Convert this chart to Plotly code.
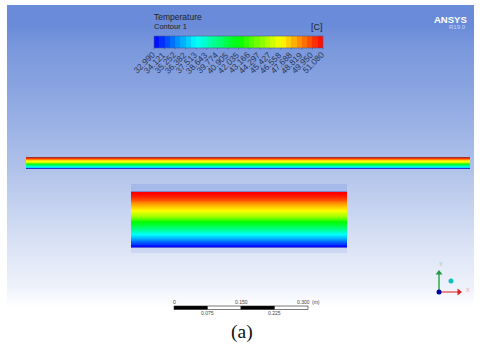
import plotly.graph_objects as go

# ---- data ----
legend_title = "Temperature"
legend_sub = "Contour 1"
legend_unit = "[C]"
tick_labels = ["32.990","34.121","35.252","36.382","37.513","38.643","39.774","40.905","42.035",
               "43.166","44.297","45.427","46.558","47.688","48.819","49.950","51.080"]
temps = [float(t) for t in tick_labels]
T_MIN, T_MAX = temps[0], temps[-1]

# temperature from hot wall to cold wall across the channel section
section_depth = [0.00, 0.06, 0.14, 0.24, 0.33, 0.42, 0.55, 0.62, 0.70, 0.76, 0.84, 0.92, 0.97, 1.00]
section_temp  = [51.08, 50.6, 49.6, 47.9, 46.5, 44.9, 42.0, 40.6, 39.2, 37.6, 36.2, 34.6, 33.4, 32.99]

rainbow = [[0, "#0000ff"], [0.25, "#00ffff"], [0.5, "#00ff00"], [0.75, "#ffff00"], [1, "#ff0000"]]

# background ramp (top to bottom of the viewport)
bg_pos    = [0.00, 0.25, 0.50, 0.75, 1.00]
bg_colors = ["#6a8bd9", "#88a3e0", "#afc1ea", "#dbe3f5", "#ffffff"]

# scale bar
scale_ticks = [0, 0.075, 0.150, 0.225, 0.300]
scale_labels = ["0", "0.075", "0.150", "0.225", "0.300"]

# ---- layout geometry (image pixels) ----
W, H = 480, 345
PANEL = (7, 474, 5, 326)
BAR = (154, 323, 36, 48)
STRIP = (26, 470, 157, 169)
CLOSE = (131, 347, 192, 247)
SB = (174, 308, 306, 309.5)

fig = go.Figure()

def edges(pos, a, b):
    """Cell edges for rows whose centres are at the relative positions pos."""
    mids = [(p + q) / 2 for p, q in zip(pos, pos[1:])]
    return [a + (b - a) * e for e in [0] + mids + [1]]

def hband(box, pos, vals, **kw):
    x0, x1, y0, y1 = box
    fig.add_trace(go.Heatmap(
        x=[x0, (x0 + x1) / 2, x1],
        y=edges(pos, y0, y1),
        z=[[v, v] for v in vals],
        zsmooth="best", showscale=False, hoverinfo="skip", **kw,
    ))

# background
hband(PANEL, bg_pos, bg_pos, zmin=0, zmax=1,
      colorscale=[[p, c] for p, c in zip(bg_pos, bg_colors)])

hband(STRIP, section_depth, section_temp, zmin=T_MIN, zmax=T_MAX, colorscale=rainbow)
hband(CLOSE, section_depth, section_temp, zmin=T_MIN, zmax=T_MAX, colorscale=rainbow)

shapes = []
def rect(x0, x1, y0, y1, fill):
    shapes.append(dict(type="rect", x0=x0, x1=x1, y0=y0, y1=y1, fillcolor=fill, line_width=0, layer="above"))

# pale margins and edge lines around the two views of the channel
rect(CLOSE[0], CLOSE[1], CLOSE[2] - 8, CLOSE[2] - 1, "rgba(120,150,225,0.30)")
rect(CLOSE[0], CLOSE[1], CLOSE[3] + 1, CLOSE[3] + 6, "rgba(120,150,225,0.18)")
rect(CLOSE[0], CLOSE[1], CLOSE[2] - 1, CLOSE[2], "rgba(110,110,190,0.75)")
rect(CLOSE[0], CLOSE[1], CLOSE[3], CLOSE[3] + 1, "rgba(50,50,200,0.75)")
rect(STRIP[0], STRIP[1], STRIP[2], STRIP[2] + 1, "rgba(130,60,60,0.75)")
rect(STRIP[0], STRIP[1], STRIP[3] - 1, STRIP[3], "rgba(40,50,200,0.85)")

# legend bar, stepped like the reference
step = 32
vals = [T_MIN + (T_MAX - T_MIN) * (i + 0.5) / step for i in range(step)]
fig.add_trace(go.Heatmap(
    x=[BAR[0] + (BAR[1] - BAR[0]) * i / step for i in range(step + 1)],
    y=[BAR[2], BAR[3]],
    z=[vals],
    zmin=T_MIN, zmax=T_MAX, colorscale=rainbow, showscale=False, hoverinfo="skip",
))
shapes.append(dict(type="rect", x0=BAR[0], x1=BAR[1], y0=BAR[2], y1=BAR[3],
                   line=dict(color="#4a5a90", width=0.6)))

ann = []
def text(x, y, s, size=8, color="#222", family="Liberation Sans", anchor="left", angle=0, bold=False):
    ann.append(dict(x=x, y=y, text=f"<b>{s}</b>" if bold else s, showarrow=False, xanchor=anchor,
                    yanchor="middle", textangle=angle,
                    font=dict(size=size, color=color, family=family)))

text(152, 17, legend_title, 8.5)
text(152, 26, legend_sub, 7.5)
text(324.5, 27, legend_unit, 9, anchor="right")

# rotated tick labels
for t, lab in zip(temps, tick_labels):
    x = BAR[0] + (t - T_MIN) / (T_MAX - T_MIN) * (BAR[1] - BAR[0])
    text(x - 10.5, 62.5, lab, 8.5, color="#2b3554", anchor="center", angle=-45)
    shapes.append(dict(type="line", x0=x, x1=x, y0=BAR[3], y1=BAR[3] + 1.5,
                       line=dict(color="#4a5a90", width=0.6)))

text(468.5, 19, "ANSYS", 9.5, color="#ffffff", anchor="right", bold=True)
text(468, 27, "R19.0", 6, color="#c9d6f3", anchor="right")

# scale bar
def sx(v):
    return SB[0] + v / scale_ticks[-1] * (SB[1] - SB[0])
for i in range(len(scale_ticks) - 1):
    shapes.append(dict(type="rect", x0=sx(scale_ticks[i]), x1=sx(scale_ticks[i + 1]), y0=SB[2], y1=SB[3],
                       fillcolor="#000000" if i % 2 == 0 else "#ffffff",
                       line=dict(color="#222222", width=0.6)))
for i, (v, lab) in enumerate(zip(scale_ticks, scale_labels)):
    y = 301.5 if i % 2 == 0 else 312.5
    text(sx(v) - (5 if i == 4 else 0), y, lab, 5, color="#444", anchor="center")
text(316, 301.5, "(m)", 5, color="#444", anchor="center")

text(241.5, 331.5, "(a)", 19.5, color="#111", family="Liberation Serif", anchor="center")

# triad
ox, oy = 439, 292
fig.add_trace(go.Scatter(x=[ox, ox], y=[oy, 272], mode="lines", line=dict(color="#2fa84f", width=1.5), hoverinfo="skip"))
fig.add_trace(go.Scatter(x=[ox, 458], y=[oy, oy], mode="lines", line=dict(color="#e04040", width=1.2), hoverinfo="skip"))
fig.add_trace(go.Scatter(x=[ox], y=[273], mode="markers", marker=dict(symbol="triangle-up", size=6, color="#1f9a3f"), hoverinfo="skip"))
fig.add_trace(go.Scatter(x=[459], y=[oy], mode="markers", marker=dict(symbol="triangle-right", size=6, color="#e02020"), hoverinfo="skip"))
fig.add_trace(go.Scatter(x=[ox], y=[oy], mode="markers", marker=dict(size=5, color="#0000a0"), hoverinfo="skip"))
fig.add_trace(go.Scatter(x=[451], y=[281], mode="markers", marker=dict(size=5, color="#10c0c0"), hoverinfo="skip"))
text(441, 263.5, "Y", 5.5, color="#7fc79a", anchor="center")
text(468, 290, "X", 5.5, color="#f0a0a0", anchor="center")

fig.update_layout(
    width=W, height=H, margin=dict(l=0, r=0, t=0, b=0), showlegend=False,
    paper_bgcolor="#ffffff", plot_bgcolor="#ffffff",
    xaxis=dict(range=[0, W], visible=False, fixedrange=True),
    yaxis=dict(range=[H, 0], visible=False, fixedrange=True),
    shapes=shapes, annotations=ann,
)
fig.write_html("out.html", config={"displayModeBar": False},
               post_script="document.body.style.margin='0';document.documentElement.style.overflow='hidden';")
